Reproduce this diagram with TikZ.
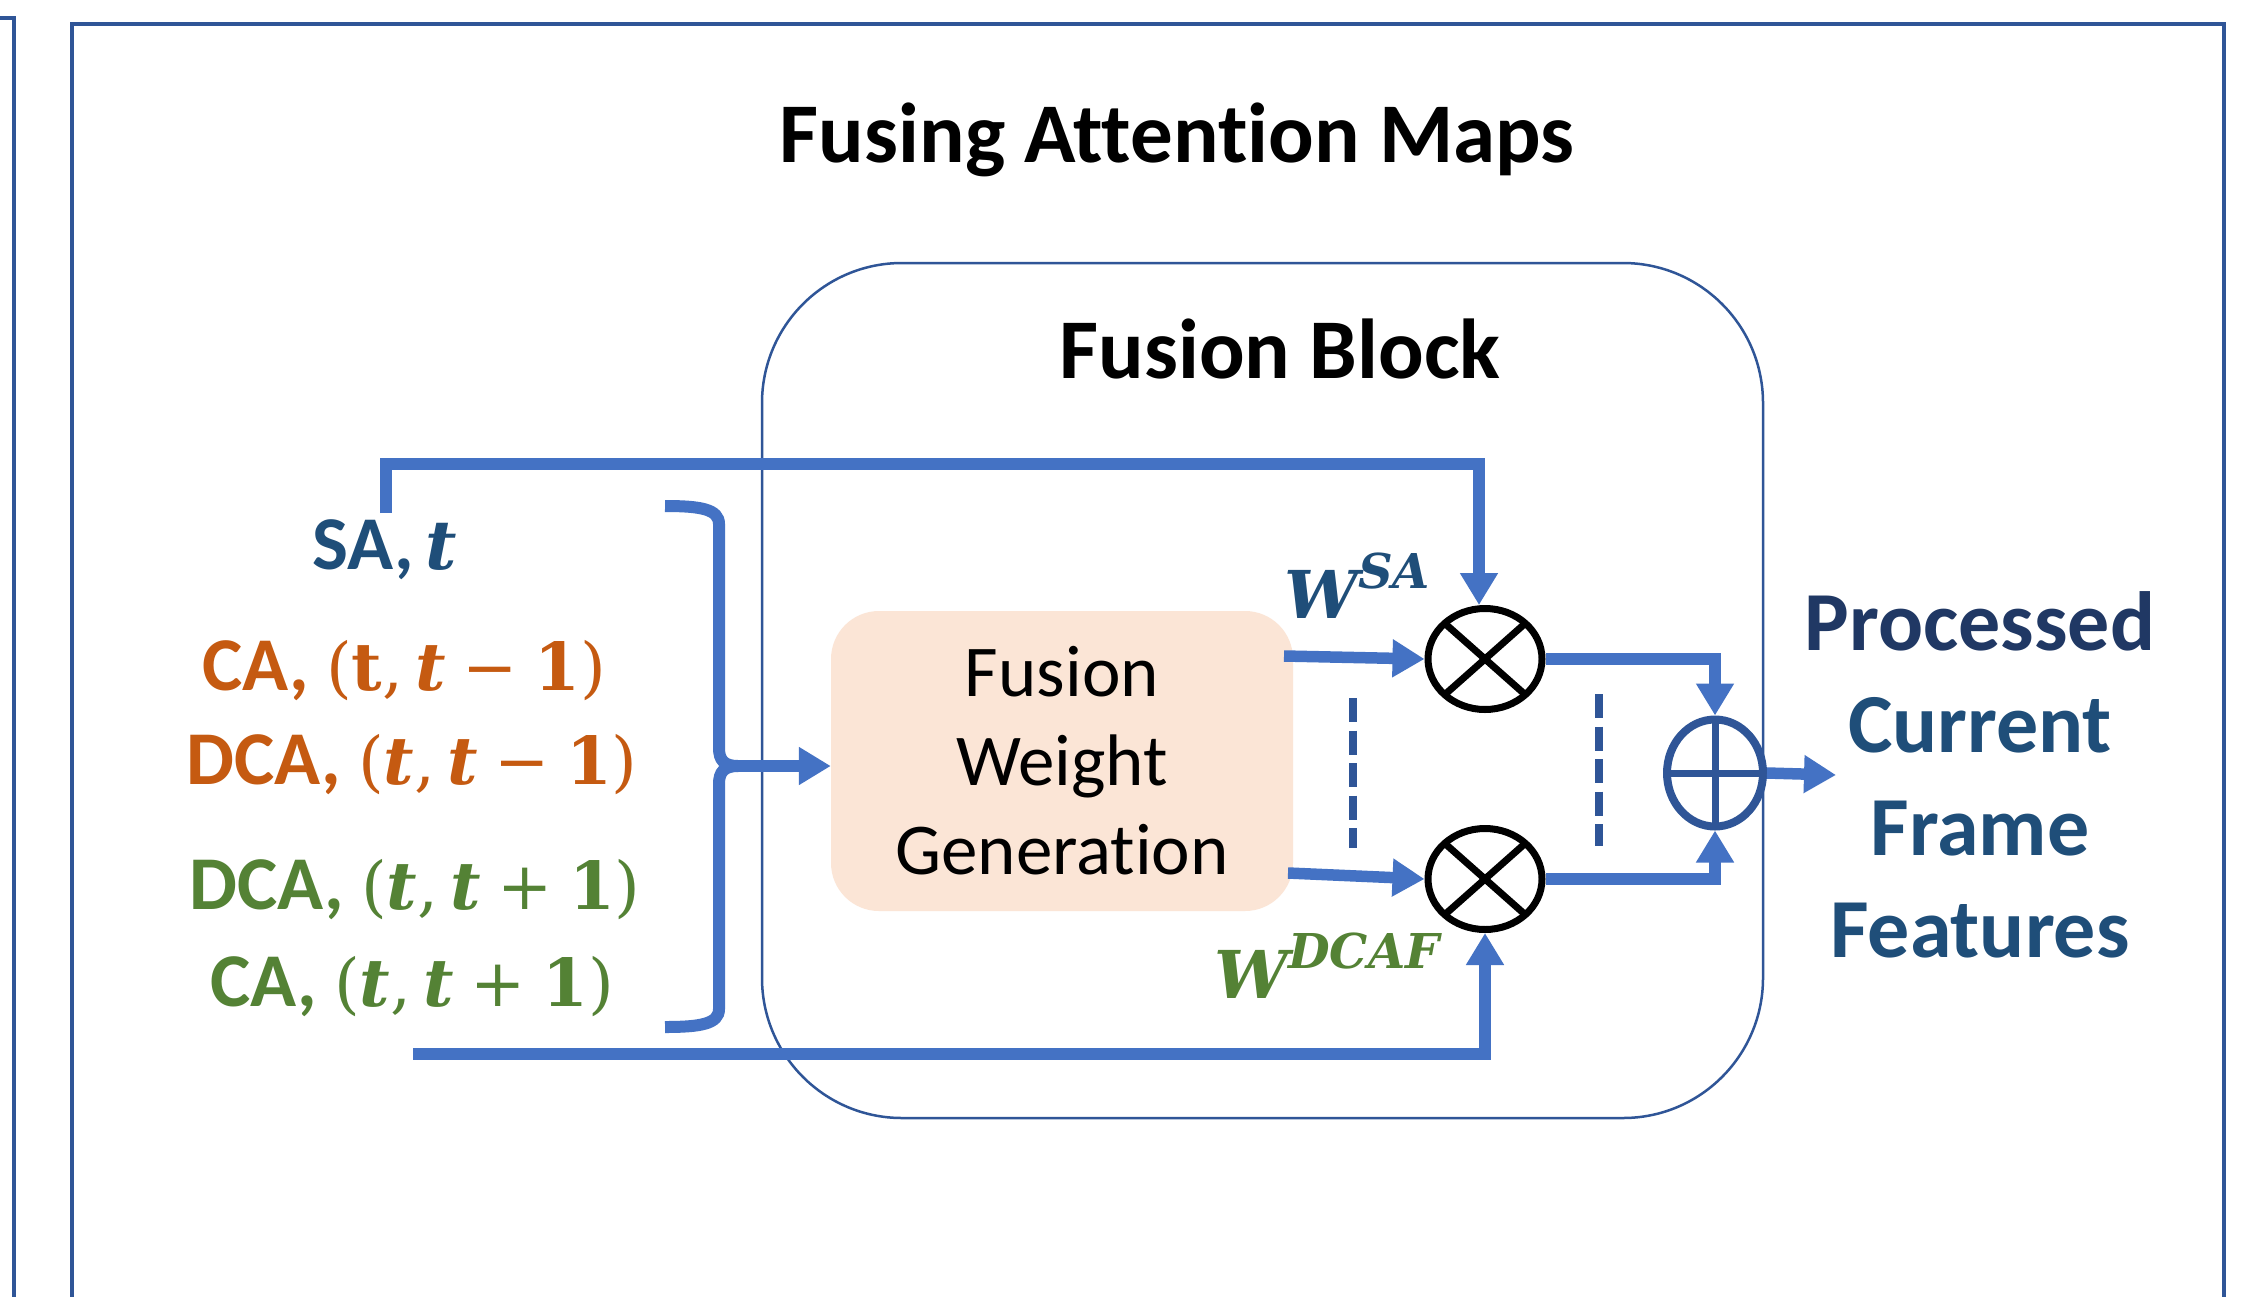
\documentclass[tikz,border=0pt]{standalone}
\usepackage{fontspec}
\setmainfont{Carlito}[Ligatures={NoCommon}]
\newfontfamily\mathlike{DejaVu Serif}
\usetikzlibrary{arrows.meta,shapes.geometric}

\definecolor{blu}{HTML}{4472C4}
\definecolor{dblu}{HTML}{2F5597}
\definecolor{sablue}{HTML}{1F4E79}
\definecolor{pnavy}{HTML}{203864}
\definecolor{orng}{HTML}{C55A11}
\definecolor{grn}{HTML}{548235}
\definecolor{peach}{HTML}{FBE5D6}

% symbols set like bold math
\newcommand\bit[1]{{\mathlike\bfseries\itshape #1}}
\newcommand\mup[1]{{\mathlike\mdseries\upshape #1}}
\newcommand\mbf[1]{{\mathlike\bfseries\upshape #1}}
\newcommand\pairm[3]{\mup{(}#1\mup{,}\hspace{0.18em}\bit{t}\hspace{0.25em}\mup{#2}\hspace{0.25em}\mbf{#3}\mup{)}}
\newcommand\supw[2]{\bit{W}\raisebox{0.45em}{\fontsize{#2}{#2}\selectfont\bit{#1}}}

\tikzset{
  frameline/.style={draw=dblu, line width=3.5pt},
  flow/.style={draw=blu, line width=11.5pt, -{Triangle[length=32pt,width=36pt]}},
  braceline/.style={draw=blu, line width=12pt},
  dashline/.style={draw=dblu, line width=8.5pt, dash pattern=on 24pt off 8.5pt},
  heading/.style={font=\fontsize{85}{100}\selectfont\bfseries, text=black, anchor=base, inner sep=0pt},
  lbl/.style={font=\fontsize{76}{90}\selectfont\bfseries, anchor=base, inner sep=0pt},
  wlbl/.style={font=\fontsize{66}{80}\selectfont, anchor=base west, inner sep=0pt},
  otimes/.style={ellipse, draw=black, line width=7pt, inner sep=0pt,
    minimum width=114pt, minimum height=101pt, fill=white,
    path picture={\draw[black, line width=7pt]
      (path picture bounding box.north west) -- (path picture bounding box.south east)
      (path picture bounding box.north east) -- (path picture bounding box.south west);}},
  oplus/.style={ellipse, draw=dblu, line width=8pt, inner sep=0pt,
    minimum width=96pt, minimum height=107pt, fill=white,
    path picture={\draw[dblu, line width=7pt]
      (path picture bounding box.north) -- (path picture bounding box.south)
      (path picture bounding box.west) -- (path picture bounding box.east);}},
}

\begin{document}
\begin{tikzpicture}[x=1pt,y=-1pt]
\useasboundingbox (0,0) rectangle (2253,1296);
\fill[white] (0,0) rectangle (2253,1296);

% panel frames
\draw[frameline] (-10,18) -- (14,18) -- (14,1310);
\draw[frameline] (72,1310) -- (72,24) -- (2224,24) -- (2224,1310);

% headings
\node[heading] (title) at (1177,162) {Fusing Attention Maps};
\node[draw=dblu, line width=2.5pt, rounded corners=140pt, inner sep=0pt,
      minimum width=1001pt, minimum height=855pt] (fb) at (1262.5,690.5) {};
\node[heading] (fbtitle) at (1280,378) {Fusion Block};

% weight generator
\node[fill=peach, rounded corners=48pt, inner sep=0pt, minimum width=462pt,
      minimum height=300pt, align=center, font=\fontsize{73}{89}\selectfont]
      (fwg) at (1062,761) {Fusion\\Weight\\Generation};

% input attention maps
\node[lbl, text=sablue] (lsa) at (385,569) {SA,\hspace{0.15em}{\fontsize{68}{80}\selectfont\bit{t}}};
\node[lbl, text=orng] (lca1) at (404,690) {CA, {\fontsize{66}{80}\selectfont\pairm{\mbf{t}}{−}{1}}};
\node[lbl, text=orng] (ldca1) at (412,784) {DCA, {\fontsize{66}{80}\selectfont\pairm{\bit{t}}{−}{1}}};
\node[lbl, text=grn] (ldca2) at (415,909) {DCA, {\fontsize{66}{80}\selectfont\pairm{\bit{t}}{+}{1}}};
\node[lbl, text=grn] (lca2) at (412,1006) {CA, {\fontsize{66}{80}\selectfont\pairm{\bit{t}}{+}{1}}};

% operators
\node[otimes] (m1) at (1485,659) {};
\node[otimes] (m2) at (1485,879) {};
\node[oplus] (s) at (1715,773) {};

% weights
\node[wlbl, text=sablue] (wsa) at (1284,618) {\supw{SA}{48}};
\node[wlbl, text=grn] (wdcaf) at (1214,998) {\supw{DCAF}{48}};

% output
\node[align=center, font=\fontsize{84}{102.5}\selectfont\bfseries, text=sablue, inner sep=0pt]
      (out) at (1980,775) {\textcolor{pnavy}{Processed}\\Current\\Frame\\Features};

% brace gathering the cross-attention maps
\coordinate (btip) at (738,766);
\draw[braceline] (665,506) .. controls (700,506) and (719,509) .. (719,524) -- (719,748)
  .. controls (719,760) and (724,766) .. (btip);
\draw[braceline] (665,1027) .. controls (700,1027) and (719,1024) .. (719,1009) -- (719,784)
  .. controls (719,772) and (724,766) .. (btip);
\draw[flow] (btip) -- (btip -| fwg.west);

% self-attention path
\coordinate (saStart) at (386,513);
\coordinate (saBend) at (386,464);
\draw[flow] (saStart) -- (saBend) -| ([xshift=-6pt]m1.north);

% bottom path
\coordinate (dcStart) at (413,1054);
\draw[flow] (dcStart) -| (m2.south);

% weights into the products
\coordinate (w1) at (1284,656);
\coordinate (w2) at (1288,873);
\draw[flow] (w1) -- (m1.west);
\draw[flow] (w2) -- (m2.west);

% products into the sum
\draw[flow] (m1.east) -| (s.north);
\draw[flow] (m2.east) -| (s.south);
\coordinate (outTip) at (1836,775);
\draw[flow] (s.east) -- (outTip);

% ellipsis marks
\draw[dashline] (1353,698) -- (1353,848);
\draw[dashline] (1599,694) -- (1599,846);
\end{tikzpicture}
\end{document}
